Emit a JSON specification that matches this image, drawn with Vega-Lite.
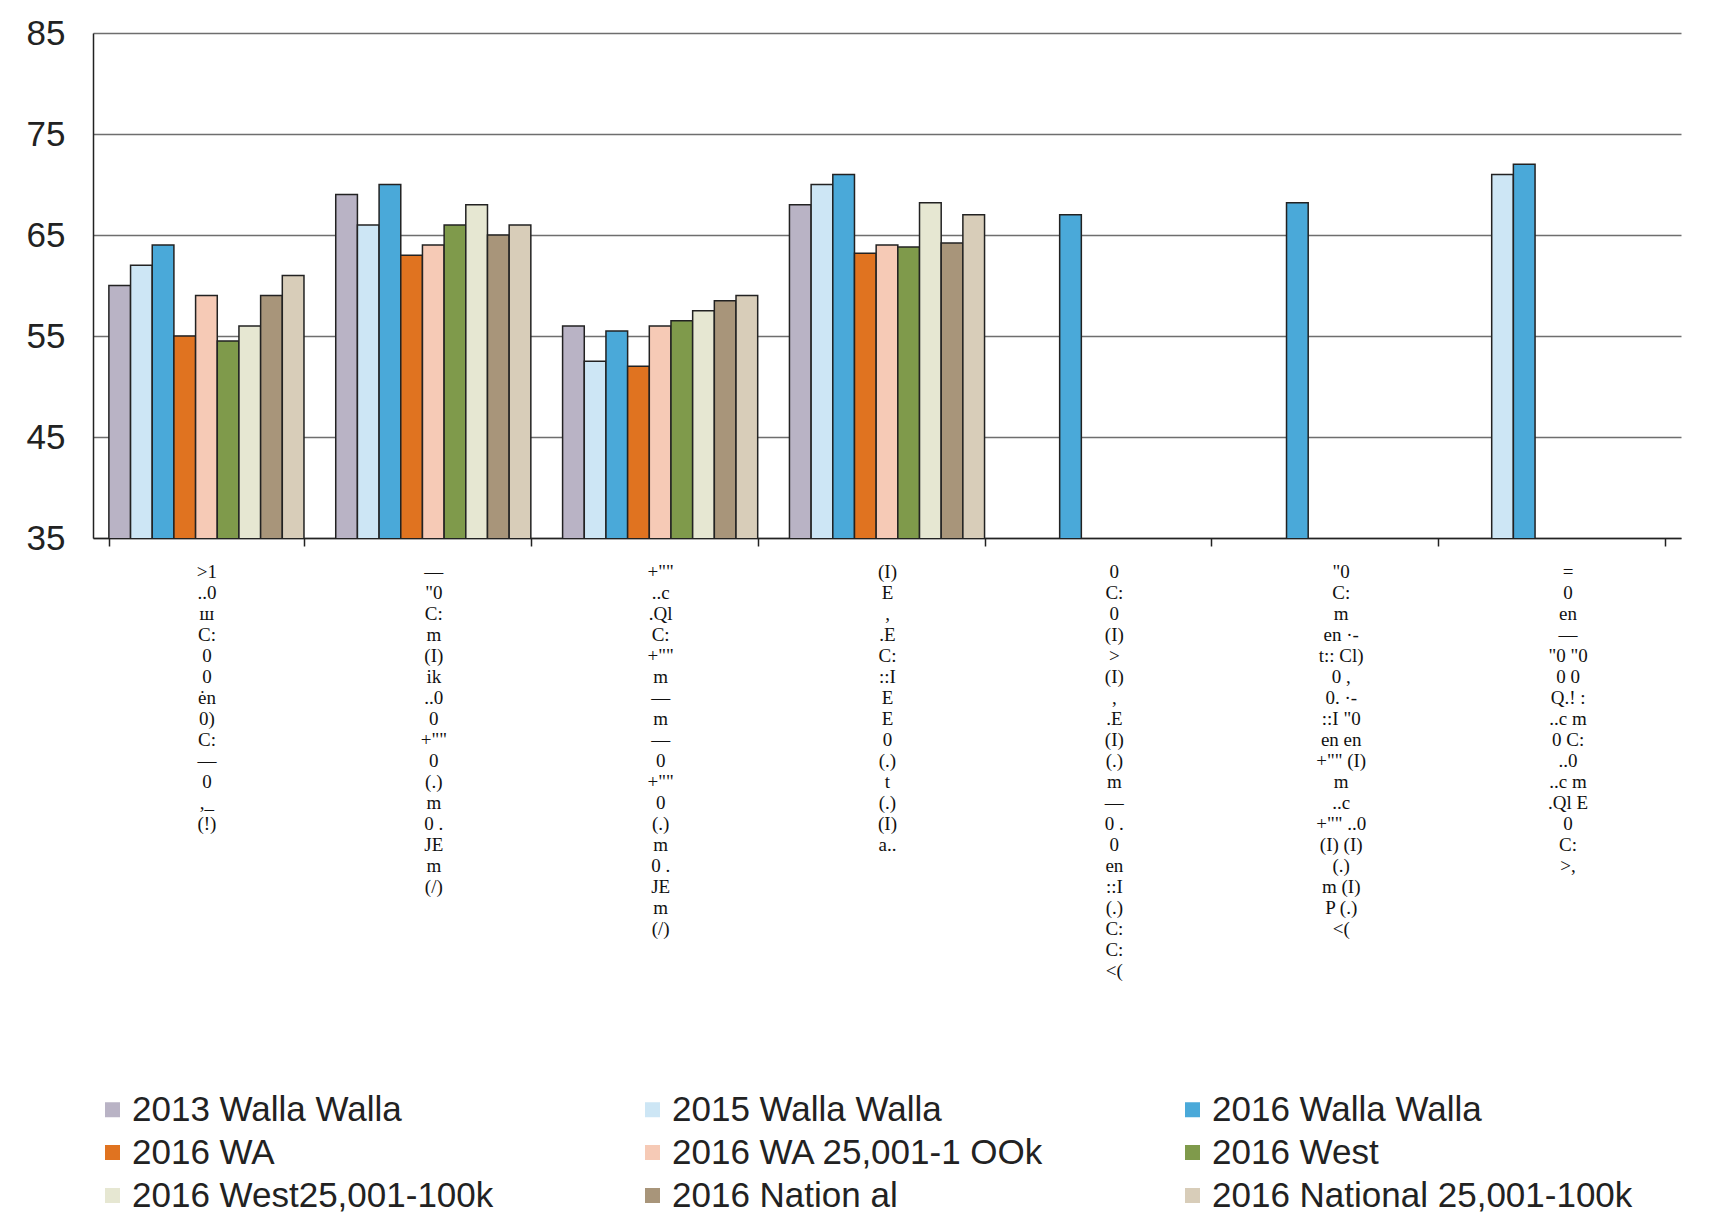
{
  "$schema": "https://vega.github.io/schema/vega-lite/v6.json",
  "autosize": {"type": "none"},
  "width": 1588,
  "height": 505,
  "padding": {"left": 93, "top": 33, "right": 31, "bottom": 687},
  "background": "white",
  "data": {
    "values": [
      {"cat": ">1|..0|ш|C:|0|0|ėn|\u00a0|0)|C:|—|\u00a0|0|,_|(!)", "series": "2013 Walla Walla", "v": 60},
      {"cat": ">1|..0|ш|C:|0|0|ėn|\u00a0|0)|C:|—|\u00a0|0|,_|(!)", "series": "2015 Walla Walla", "v": 62},
      {"cat": ">1|..0|ш|C:|0|0|ėn|\u00a0|0)|C:|—|\u00a0|0|,_|(!)", "series": "2016 Walla Walla", "v": 64},
      {"cat": ">1|..0|ш|C:|0|0|ėn|\u00a0|0)|C:|—|\u00a0|0|,_|(!)", "series": "2016 WA", "v": 55},
      {"cat": ">1|..0|ш|C:|0|0|ėn|\u00a0|0)|C:|—|\u00a0|0|,_|(!)", "series": "2016 WA 25,001-1 OOk", "v": 59},
      {"cat": ">1|..0|ш|C:|0|0|ėn|\u00a0|0)|C:|—|\u00a0|0|,_|(!)", "series": "2016 West", "v": 54.5},
      {"cat": ">1|..0|ш|C:|0|0|ėn|\u00a0|0)|C:|—|\u00a0|0|,_|(!)", "series": "2016 West25,001-100k", "v": 56},
      {"cat": ">1|..0|ш|C:|0|0|ėn|\u00a0|0)|C:|—|\u00a0|0|,_|(!)", "series": "2016 Nation al", "v": 59},
      {"cat": ">1|..0|ш|C:|0|0|ėn|\u00a0|0)|C:|—|\u00a0|0|,_|(!)", "series": "2016 National 25,001-100k", "v": 61},

      {"cat": "—|\u00a0|\"0|C:|m|(I)|ik|..0|0|+\"\"|0|(.)|m|0 .|JE|m|(/)", "series": "2013 Walla Walla", "v": 69},
      {"cat": "—|\u00a0|\"0|C:|m|(I)|ik|..0|0|+\"\"|0|(.)|m|0 .|JE|m|(/)", "series": "2015 Walla Walla", "v": 66},
      {"cat": "—|\u00a0|\"0|C:|m|(I)|ik|..0|0|+\"\"|0|(.)|m|0 .|JE|m|(/)", "series": "2016 Walla Walla", "v": 70},
      {"cat": "—|\u00a0|\"0|C:|m|(I)|ik|..0|0|+\"\"|0|(.)|m|0 .|JE|m|(/)", "series": "2016 WA", "v": 63},
      {"cat": "—|\u00a0|\"0|C:|m|(I)|ik|..0|0|+\"\"|0|(.)|m|0 .|JE|m|(/)", "series": "2016 WA 25,001-1 OOk", "v": 64},
      {"cat": "—|\u00a0|\"0|C:|m|(I)|ik|..0|0|+\"\"|0|(.)|m|0 .|JE|m|(/)", "series": "2016 West", "v": 66},
      {"cat": "—|\u00a0|\"0|C:|m|(I)|ik|..0|0|+\"\"|0|(.)|m|0 .|JE|m|(/)", "series": "2016 West25,001-100k", "v": 68},
      {"cat": "—|\u00a0|\"0|C:|m|(I)|ik|..0|0|+\"\"|0|(.)|m|0 .|JE|m|(/)", "series": "2016 Nation al", "v": 65},
      {"cat": "—|\u00a0|\"0|C:|m|(I)|ik|..0|0|+\"\"|0|(.)|m|0 .|JE|m|(/)", "series": "2016 National 25,001-100k", "v": 66},

      {"cat": "+\"\"|..c|.Ql|C:|+\"\"|m|—|m|—|0|+\"\"|0|(.)|m|0 .|JE|m|(/)", "series": "2013 Walla Walla", "v": 56},
      {"cat": "+\"\"|..c|.Ql|C:|+\"\"|m|—|m|—|0|+\"\"|0|(.)|m|0 .|JE|m|(/)", "series": "2015 Walla Walla", "v": 52.5},
      {"cat": "+\"\"|..c|.Ql|C:|+\"\"|m|—|m|—|0|+\"\"|0|(.)|m|0 .|JE|m|(/)", "series": "2016 Walla Walla", "v": 55.5},
      {"cat": "+\"\"|..c|.Ql|C:|+\"\"|m|—|m|—|0|+\"\"|0|(.)|m|0 .|JE|m|(/)", "series": "2016 WA", "v": 52},
      {"cat": "+\"\"|..c|.Ql|C:|+\"\"|m|—|m|—|0|+\"\"|0|(.)|m|0 .|JE|m|(/)", "series": "2016 WA 25,001-1 OOk", "v": 56},
      {"cat": "+\"\"|..c|.Ql|C:|+\"\"|m|—|m|—|0|+\"\"|0|(.)|m|0 .|JE|m|(/)", "series": "2016 West", "v": 56.5},
      {"cat": "+\"\"|..c|.Ql|C:|+\"\"|m|—|m|—|0|+\"\"|0|(.)|m|0 .|JE|m|(/)", "series": "2016 West25,001-100k", "v": 57.5},
      {"cat": "+\"\"|..c|.Ql|C:|+\"\"|m|—|m|—|0|+\"\"|0|(.)|m|0 .|JE|m|(/)", "series": "2016 Nation al", "v": 58.5},
      {"cat": "+\"\"|..c|.Ql|C:|+\"\"|m|—|m|—|0|+\"\"|0|(.)|m|0 .|JE|m|(/)", "series": "2016 National 25,001-100k", "v": 59},

      {"cat": "(I)|E|,|.E|\u00a0|C:|::I|E|E|0|(.)|t|(.)|\u00a0|(I)|a..", "series": "2013 Walla Walla", "v": 68},
      {"cat": "(I)|E|,|.E|\u00a0|C:|::I|E|E|0|(.)|t|(.)|\u00a0|(I)|a..", "series": "2015 Walla Walla", "v": 70},
      {"cat": "(I)|E|,|.E|\u00a0|C:|::I|E|E|0|(.)|t|(.)|\u00a0|(I)|a..", "series": "2016 Walla Walla", "v": 71},
      {"cat": "(I)|E|,|.E|\u00a0|C:|::I|E|E|0|(.)|t|(.)|\u00a0|(I)|a..", "series": "2016 WA", "v": 63.2},
      {"cat": "(I)|E|,|.E|\u00a0|C:|::I|E|E|0|(.)|t|(.)|\u00a0|(I)|a..", "series": "2016 WA 25,001-1 OOk", "v": 64},
      {"cat": "(I)|E|,|.E|\u00a0|C:|::I|E|E|0|(.)|t|(.)|\u00a0|(I)|a..", "series": "2016 West", "v": 63.8},
      {"cat": "(I)|E|,|.E|\u00a0|C:|::I|E|E|0|(.)|t|(.)|\u00a0|(I)|a..", "series": "2016 West25,001-100k", "v": 68.2},
      {"cat": "(I)|E|,|.E|\u00a0|C:|::I|E|E|0|(.)|t|(.)|\u00a0|(I)|a..", "series": "2016 Nation al", "v": 64.2},
      {"cat": "(I)|E|,|.E|\u00a0|C:|::I|E|E|0|(.)|t|(.)|\u00a0|(I)|a..", "series": "2016 National 25,001-100k", "v": 67},

      {"cat": "0|C:|0|\u00a0|(I)|>|(I)|,|.E|(I)|(.)|m|—|0 .|0|en|::I|(.)|C:|C:|<(", "series": "2016 Walla Walla", "v": 67},

      {"cat": "\"0|C:|m|en  ·-|t::  Cl)|0  ,|0.  ·-|::I  \"0|en  en|+\"\"  (I)|m|..c|+\"\"  ..0|(I)  (I)|(.)|m  (I)|P  (.)|<(", "series": "2016 Walla Walla", "v": 68.2},

      {"cat": "=|0|en|—|\"0  \"0|0  0|Q.! :|..c  m|0  C:|..0|..c  m|.Ql  E|0|C:|>,", "series": "2015 Walla Walla", "v": 71},
      {"cat": "=|0|en|—|\"0  \"0|0  0|Q.! :|..c  m|0  C:|..0|..c  m|.Ql  E|0|C:|>,", "series": "2016 Walla Walla", "v": 72}
    ]
  },
  "mark": {"type": "bar", "stroke": "#222222", "strokeWidth": 1.5, "clip": true},
  "encoding": {
    "x": {
      "field": "cat",
      "type": "nominal",
      "sort": null,
      "scale": {"paddingInner": 0.14, "paddingOuter": 0.07},
      "axis": {
        "title": null,
        "labelAngle": 0,
        "labelExpr": "split(datum.label, '|')",
        "labelFont": "Liberation Serif",
        "labelFontSize": 19,
        "labelLineHeight": 21,
        "labelColor": "#111111",
        "labelBaseline": "top",
        "labelPadding": 16,
        "labelLimit": 0,
        "labelOverlap": false,
        "domainColor": "#222222",
        "domainWidth": 1.5,
        "tickBand": "extent",
        "tickSize": 8,
        "tickColor": "#222222",
        "tickWidth": 1.5,
        "grid": false
      }
    },
    "xOffset": {
      "field": "series",
      "type": "nominal",
      "sort": ["2013 Walla Walla", "2015 Walla Walla", "2016 Walla Walla", "2016 WA", "2016 WA 25,001-1 OOk", "2016 West", "2016 West25,001-100k", "2016 Nation al", "2016 National 25,001-100k"],
      "scale": {"paddingInner": 0, "paddingOuter": 0}
    },
    "y": {
      "field": "v",
      "type": "quantitative",
      "scale": {"domain": [35, 85], "nice": false, "zero": false},
      "axis": {
        "title": null,
        "values": [35, 45, 55, 65, 75, 85],
        "labelFont": "Liberation Sans",
        "labelFontSize": 35,
        "labelColor": "#222222",
        "labelPadding": 28,
        "ticks": false,
        "domainColor": "#222222",
        "domainWidth": 1.5,
        "grid": true,
        "gridColor": "#6e6e6e",
        "gridWidth": 1.5
      }
    },
    "color": {
      "field": "series",
      "type": "nominal",
      "sort": ["2013 Walla Walla", "2015 Walla Walla", "2016 Walla Walla", "2016 WA", "2016 WA 25,001-1 OOk", "2016 West", "2016 West25,001-100k", "2016 Nation al", "2016 National 25,001-100k"],
      "scale": {
        "domain": ["2013 Walla Walla", "2015 Walla Walla", "2016 Walla Walla", "2016 WA", "2016 WA 25,001-1 OOk", "2016 West", "2016 West25,001-100k", "2016 Nation al", "2016 National 25,001-100k"],
        "range": ["#b9b3c5", "#cde6f5", "#4aa9d9", "#e07320", "#f6cab6", "#7f9a4b", "#e6e7d2", "#a8957a", "#d8cdb9"]
      },
      "legend": {
        "title": null,
        "orient": "none",
        "legendX": 2,
        "legendY": 1059,
        "columns": 3,
        "direction": "horizontal",
        "gridAlign": "all",
        "columnPadding": 82,
        "rowPadding": 7,
        "padding": 0,
        "symbolType": "square",
        "symbolSize": 225,
        "symbolStrokeWidth": 0,
        "symbolOffset": 0,
        "labelOffset": 2,
        "labelFont": "Liberation Sans",
        "labelFontSize": 35,
        "labelColor": "#222222",
        "labelLimit": 0
      }
    }
  },
  "config": {
    "view": {"stroke": null}
  }
}
